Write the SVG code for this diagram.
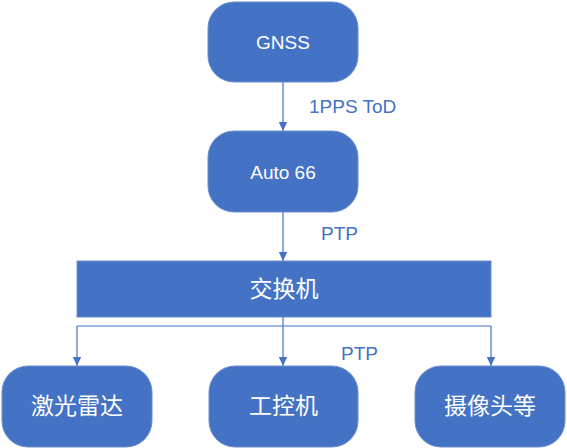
<svg xmlns="http://www.w3.org/2000/svg" width="567" height="448" viewBox="0 0 567 448">
<defs>
<style>
.box{fill:#4472C4;stroke:#6D8FCC;stroke-width:1}
.t{fill:#FFFFFF;font-family:"Liberation Sans","Noto Sans CJK SC",sans-serif;font-size:19px;text-anchor:middle}
.c{fill:#FFFFFF;font-family:"Noto Sans CJK SC",sans-serif;font-size:23px;text-anchor:middle}
.lbl{fill:#4472C4;font-family:"Liberation Sans",sans-serif;font-size:19px}
.ln{stroke:#4472C4;stroke-width:1.2;fill:none}
</style>
<marker id="ah" markerWidth="10" markerHeight="10" refX="9" refY="5" orient="auto" markerUnits="userSpaceOnUse">
<path d="M0,0.8 L9,5 L0,9.2 Z" fill="#4472C4"/>
</marker>
</defs>
<rect width="567" height="448" fill="#FFFFFF"/>
<g id="connectors">
<path class="ln" d="M283,82 V131" marker-end="url(#ah)"/>
<path class="ln" d="M283,212 V261" marker-end="url(#ah)"/>
<path class="ln" d="M283,317 V366" marker-end="url(#ah)"/>
<path class="ln" d="M77,326 H491"/>
<path class="ln" d="M77,326 V366" marker-end="url(#ah)"/>
<path class="ln" d="M491,326 V366" marker-end="url(#ah)"/>
<text class="lbl" x="309" y="113">1PPS ToD</text>
<text class="lbl" x="321" y="240">PTP</text>
<text class="lbl" x="341" y="360">PTP</text>
</g>
<g id="gnss">
<rect class="box" x="208" y="2" width="150" height="80" rx="26"/>
<text class="t" x="283" y="48.5">GNSS</text>
</g>
<g id="auto66">
<rect class="box" x="208" y="131" width="150" height="81" rx="26"/>
<text class="t" x="283" y="179">Auto 66</text>
</g>
<g id="switch">
<rect class="box" x="77" y="261" width="414" height="56"/>
<text class="c" x="284" y="297">交换机</text>
</g>
<g id="lidar">
<rect class="box" x="2" y="366" width="150" height="81" rx="26"/>
<text class="c" x="77" y="414">激光雷达</text>
</g>
<g id="ipc">
<rect class="box" x="209" y="366" width="149" height="81" rx="26"/>
<text class="c" x="283.5" y="414">工控机</text>
</g>
<g id="camera">
<rect class="box" x="415" y="366" width="150" height="81" rx="26"/>
<text class="c" x="490" y="414">摄像头等</text>
</g>
</svg>
